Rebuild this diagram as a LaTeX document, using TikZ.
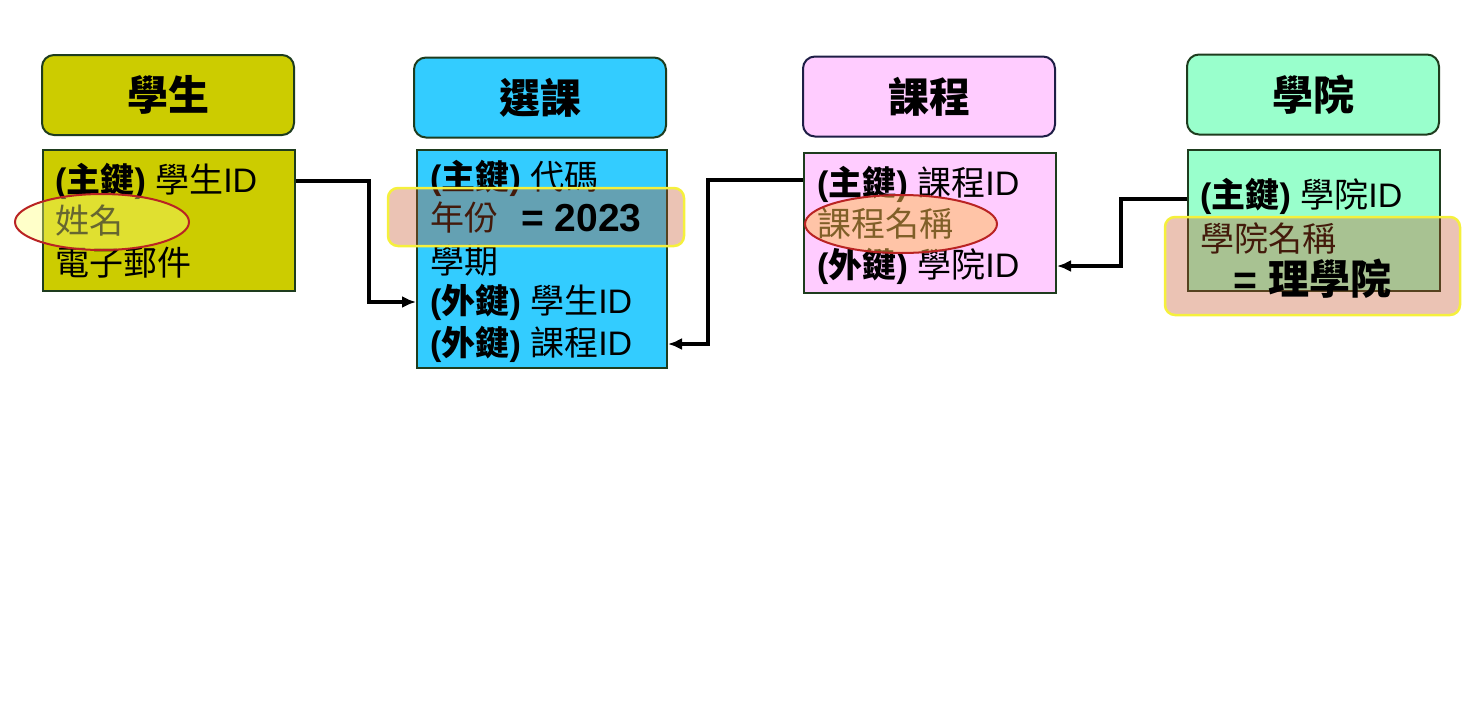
\documentclass[tikz,border=0pt]{standalone}
\usepackage{fontspec}
\setmainfont{Liberation Sans}
\newfontfamily\cjk{Noto Sans CJK TC}
\usetikzlibrary{arrows.meta,calc}
\definecolor{stuc}{RGB}{204,204,0}
\definecolor{enrc}{RGB}{51,204,255}
\definecolor{crsc}{RGB}{255,204,255}
\definecolor{colc}{RGB}{153,255,204}
\definecolor{bordg}{RGB}{30,60,30}
\definecolor{bordn}{RGB}{30,30,70}
\definecolor{overlayc}{RGB}{197,79,35}
\definecolor{hlyel}{RGB}{245,240,60}
\definecolor{ellred}{RGB}{185,35,35}
\newcommand{\cj}[1]{{\cjk #1}}
\begin{document}
\begin{tikzpicture}[x=1pt,y=-1pt,
  titlebox/.style={draw=bordg,line width=2pt,rounded corners=12pt,minimum width=252pt,minimum height=80pt,inner sep=0pt,font=\fontsize{41}{43}\selectfont\bfseries\cjk},
  bodybox/.style={draw=bordg,line width=2pt,inner sep=0pt,anchor=north west},
  field/.style={anchor=west,inner sep=0pt,font=\fontsize{34}{36}\selectfont},
  conn/.style={line width=3.5pt,-{Latex[length=14pt,width=12pt]}},
  hlbox/.style={draw=hlyel,line width=2.5pt,fill=overlayc,fill opacity=0.34,rounded corners=10pt},
  hlell/.style={draw=ellred,line width=2pt}
]
\useasboundingbox (0,0) rectangle (1473,720);
% titles
\node[titlebox,fill=stuc] (st) at (168,95) {學生};
\node[titlebox,fill=enrc] (et) at (540,97.5) {選課};
\node[titlebox,fill=crsc,draw=bordn] (ct) at (929,96.5) {課程};
\node[titlebox,fill=colc] (lt) at (1313,94.5) {學院};
% bodies
\node[bodybox,fill=stuc,minimum width=252pt,minimum height=141pt] (sb) at (42,149) {};
\node[bodybox,fill=enrc,minimum width=250pt,minimum height=218pt] (eb) at (416,149) {};
\node[bodybox,fill=crsc,minimum width=252pt,minimum height=140pt] (cb) at (803,152) {};
\node[bodybox,fill=colc,minimum width=252pt,minimum height=141pt] (lb) at (1187,149) {};
% fields
\node[field] (s1) at (55,181) {\textbf{(\cj{主鍵})} \cj{學生}ID};
\node[field] (s2) at (55,221) {\cj{姓名}};
\node[field] (s3) at (55,263) {\cj{電子郵件}};
\node[field] (e1) at (430,178) {\textbf{(\cj{主鍵})} \cj{代碼}};
\node[field] (e2) at (430,218) {\cj{年份}};
\node[field] (e3) at (430,261) {\cj{學期}};
\node[field] (e4) at (430,302) {\textbf{(\cj{外鍵})} \cj{學生}ID};
\node[field] (e5) at (430,344) {\textbf{(\cj{外鍵})} \cj{課程}ID};
\node[field] (c1) at (817,184) {\textbf{(\cj{主鍵})} \cj{課程}ID};
\node[field] (c2) at (817,224) {\cj{課程名稱}};
\node[field] (c3) at (817,266) {\textbf{(\cj{外鍵})} \cj{學院}ID};
\node[field] (l1) at (1200,196) {\textbf{(\cj{主鍵})} \cj{學院}ID};
\node[field] (l2) at (1200,238) {\cj{學院名稱}};
% highlights
\draw[hlell,fill={rgb,255:red,255;green,255;blue,120},fill opacity=0.4] (102,222) ellipse [x radius=87pt,y radius=28pt];
\draw[hlell,fill={rgb,255:red,255;green,190;blue,80},fill opacity=0.5] (901,224) ellipse [x radius=96pt,y radius=29pt];
\draw[hlbox] (388,188) rectangle (684,246);
\draw[hlbox] (1165,217) rectangle (1460,315);
\node[field,font=\fontsize{39}{41}\selectfont\bfseries] (ev) at (521,218) {= 2023};
\node[field,font=\fontsize{41}{43}\selectfont\bfseries] (lv) at (1233,279) {= \cj{理學院}};
% connectors
\draw[conn] (sb.east |- s1) -- ++(73,0) |- (eb.west |- e4);
\draw[conn] (cb.west |- 0,180) -- (708,180) |- (eb.east |- e5);
\draw[conn] (lb.west |- 0,199) -- (1121,199) |- (cb.east |- c3);
\end{tikzpicture}
\end{document}
